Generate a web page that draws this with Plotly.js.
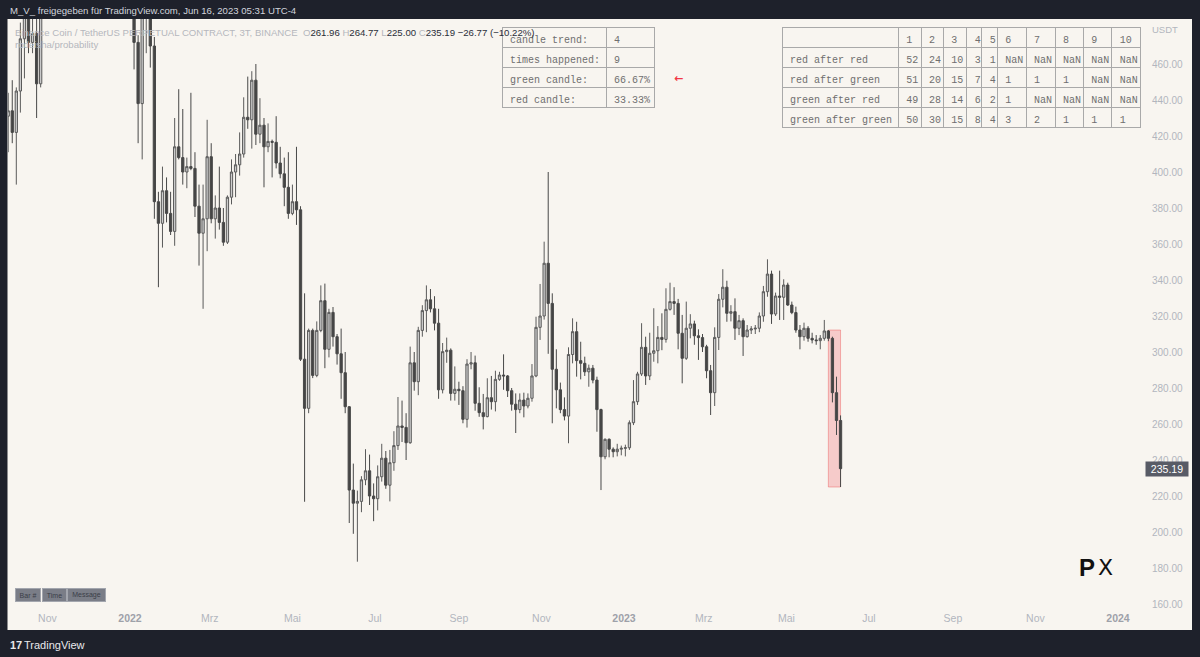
<!DOCTYPE html>
<html><head><meta charset="utf-8">
<script src="https://cdn.plot.ly/plotly-3.0.1.min.js"></script>
<style>html,body{margin:0;padding:0;background:#1e212b;overflow:hidden}#chart{width:1200px;height:657px}</style>
</head><body><div id="chart"></div>
<script>
// ---------------- DATA ----------------
const dates = [
'2021-10-03','2021-10-06','2021-10-09','2021-10-12','2021-10-15','2021-10-18','2021-10-21','2021-10-24','2021-10-27',
'2022-01-04','2022-01-07','2022-01-10','2022-01-13','2022-01-16','2022-01-19','2022-01-22','2022-01-25','2022-01-28','2022-01-31',
'2022-02-03','2022-02-06','2022-02-09','2022-02-12','2022-02-15','2022-02-18','2022-02-21','2022-02-24','2022-02-27',
'2022-03-02','2022-03-05','2022-03-08','2022-03-11','2022-03-14','2022-03-17','2022-03-20','2022-03-23','2022-03-26','2022-03-29',
'2022-04-01','2022-04-04','2022-04-07','2022-04-10','2022-04-13','2022-04-16','2022-04-19','2022-04-22','2022-04-25','2022-04-28',
'2022-05-01','2022-05-04','2022-05-07','2022-05-10','2022-05-13','2022-05-16','2022-05-19','2022-05-22','2022-05-25','2022-05-28','2022-05-31',
'2022-06-03','2022-06-06','2022-06-09','2022-06-12','2022-06-15','2022-06-18','2022-06-21','2022-06-24','2022-06-27','2022-06-30',
'2022-07-03','2022-07-06','2022-07-09','2022-07-12','2022-07-15','2022-07-18','2022-07-21','2022-07-24','2022-07-27','2022-07-30',
'2022-08-02','2022-08-05','2022-08-08','2022-08-11','2022-08-14','2022-08-17','2022-08-20','2022-08-23','2022-08-26','2022-08-29',
'2022-09-01','2022-09-04','2022-09-07','2022-09-10','2022-09-13','2022-09-16','2022-09-19','2022-09-22','2022-09-25','2022-09-28',
'2022-10-01','2022-10-04','2022-10-07','2022-10-10','2022-10-13','2022-10-16','2022-10-19','2022-10-22','2022-10-25','2022-10-28','2022-10-31',
'2022-11-03','2022-11-06','2022-11-09','2022-11-12','2022-11-15','2022-11-18','2022-11-21','2022-11-24','2022-11-27','2022-11-30',
'2022-12-03','2022-12-06','2022-12-09','2022-12-12','2022-12-15','2022-12-18','2022-12-21','2022-12-24','2022-12-27','2022-12-30',
'2023-01-02','2023-01-05','2023-01-08','2023-01-11','2023-01-14','2023-01-17','2023-01-20','2023-01-23','2023-01-26','2023-01-29',
'2023-02-01','2023-02-04','2023-02-07','2023-02-10','2023-02-13','2023-02-16','2023-02-19','2023-02-22','2023-02-25','2023-02-28',
'2023-03-03','2023-03-06','2023-03-09','2023-03-12','2023-03-15','2023-03-18','2023-03-21','2023-03-24','2023-03-27','2023-03-30',
'2023-04-02','2023-04-05','2023-04-08','2023-04-11','2023-04-14','2023-04-17','2023-04-20','2023-04-23','2023-04-26','2023-04-29',
'2023-05-02','2023-05-05','2023-05-08','2023-05-11','2023-05-14','2023-05-17','2023-05-20','2023-05-23','2023-05-26','2023-05-29',
'2023-06-01','2023-06-04','2023-06-07','2023-06-10'];

const opens = [
431,434,422,445,474,488,472,477,449,
512,472,438,487,495,470,383.5,371.5,389.6,377,
367,414,408,400,403,402,381,366,374,
408.5,374,380,372,361,386,400,404,410,430.4,
429,451,421,426,414,417,416.5,405,399,391.5,
377,383.5,379,296,268.7,312,287,312,328.5,301.5,322,
308.5,299,288.5,269.6,223.3,216,217,229,234,220,
218.5,230.7,241,226,238.5,248,258.9,258.1,249.6,294,
283.5,312,323,329,324,316,279,300.2,301,277,
279.3,278.5,262.6,293.3,294,271.5,266.3,264.1,274.6,272.4,
284.8,287.2,286.7,278.5,271,268,273.3,270,274.3,286.7,313.7,
320,349.3,327,290.4,279,268,264.4,298.6,311.3,295.2,
293.7,289,291,284.4,268,241.8,251.5,246,244.6,246,
246.5,246.8,260.7,272.4,287.8,302.6,286.7,299.3,300.7,308.1,
307,323.7,328,327,310.4,296.5,313.2,315.6,309,308,
302.9,289.6,277.4,308.1,329.3,336,321.5,322.4,313.2,317.4,
308.5,312.2,312.8,313.2,320,333.5,343.3,321.1,331.1,330.4,
337.2,326.1,321.9,312.2,308.5,313.2,307.6,306.7,306.3,307.6,
311.7,307.6,277.4,261.96];

const highs = [
444,451,447,483,495,495,490,490,505,
520,476,495,505,500,475,389,403,397,389,
430,446,435,408,444,411,393,393,429,
416,387,403,380,387,407,410,422,441.5,453,
456,460,441,430,427,418,431,414,408,411,
393,414,381,332.6,313,313,317,337,338,324,325,
310,313,300,270,238,223,231,246,243,227,
237,249,245,245.6,256,275,273,266,303,300,
314,326,337,335,331,324,305,308,302,292,
283.5,281,296,300,298,280.4,276.7,285.4,286.7,289.6,
289,298.7,287.2,280,277,277,277.4,277,293.3,319.6,337.8,
361.3,400,332.6,301.5,283,274.8,302.6,318.7,316.8,305.7,
297.4,293,292.8,286.3,268.5,252,252,247,249,248,
248.5,262,284.4,289,316,308.5,310.7,324.3,314.4,321.5,
335.4,338.5,336,329.5,320.6,328,321,317.4,312.6,310,
304,292.8,313.7,332.2,346,339.6,326,329.8,320.6,318.7,
315,314.4,315,322,336.7,351.5,345.2,333,345.2,340.4,
338.5,328,325.2,315,316.3,314.4,310.7,309.4,309.4,317.8,
312.2,308.5,286.3,264.77];

const lows = [
411,416,393,433,452,466,466,430,447,
457,416,407,466,458,374,336,358,372,365,
359,407,393,391,401,375,348,324,356,
371.5,363,368,359,360,382,386,398,408,424,
413,415,416,391.5,411,397,402,396.5,381,374,
376,370.6,295,216.8,266,285.5,286,311,291,297,303,
293,274,266,205,199,183.5,211,226,215,206,
212,228,224,217,234,245.6,250,240,249,278.5,
276,308.5,311,322,312,274,277,294,273,273,
270.6,260.4,258,290.4,267.4,264,257,263.7,268,267,
284,279,275,267.4,255,266,263.7,268.7,272.4,286,306.7,
318,299,260.4,268.7,266,262,249.3,293.7,286.3,284.8,
286.7,280.7,282.6,255.7,223.3,240.4,241.5,241.5,242,242.6,
242,245.6,259.4,270.6,286.7,281.7,284.4,294.6,293.7,301,
305.2,323,320.6,301.5,282.6,295.6,307.6,304,295.6,300,
285.4,265,270,301.1,324.8,316.8,317,306.7,309.4,297.8,
308,310,310,311,316.8,330.7,315.6,320,317.8,317.8,
325.6,321,310.7,301.5,306.3,305.7,304.8,304,301.5,306.3,
306,272,253.9,225.00];

const closes = [
434,422,445,474,488,472,477,449,495,
472,438,487,495,470,383.5,371.5,389.6,377,367,
414,408,400,403,402,381,366,374,408.5,
374,380,372,361,386,400,404,410,430.4,429,
451,421,426,414,417,416.5,405,399,391.5,377,
383.5,379,296,268.7,312,287,312,328.5,301.5,322,308.5,
299,288.5,269.6,223.3,216,217,229,234,220,218.5,
230.7,241,226,238.5,248,258.9,258.1,249.6,294,283.5,
312,323,329,324,316,279,300.2,301,277,279.3,
278.5,262.6,293.3,294,271.5,266.3,264.1,274.6,272.4,284.8,
287.2,286.7,278.5,271,268,273.3,270,274.3,286.7,313.7,320,
349.3,327,290.4,279,268,264.4,298.6,311.3,295.2,293.7,
289,291,284.4,268,241.8,251.5,246,244.6,246,246.5,
246.8,260.7,272.4,287.8,302.6,286.7,299.3,300.7,308.1,307,
323.7,328,327,310.4,296.5,313.2,315.6,309,308,302.9,
289.6,277.4,308.1,329.3,336,321.5,322.4,313.2,317.4,308.5,
312.2,312.8,313.2,320,333.5,343.3,321.1,331.1,330.4,337.2,
326.1,321.9,312.2,308.5,313.2,307.6,306.7,306.3,307.6,311.7,
307.6,277.4,261.96,235.19];

const priceTicks = [160,180,200,220,240,260,280,300,320,340,360,380,400,420,440,460];
const timeTickDates = ['2021-11-01','2022-01-01','2022-03-01','2022-05-01','2022-07-01','2022-09-01','2022-11-01',
                       '2023-01-01','2023-03-01','2023-05-01','2023-07-01','2023-09-01','2023-11-01','2024-01-01'];
const timeTickLabels = ['Nov','2022','Mrz','Mai','Jul','Sep','Nov','2023','Mrz','Mai','Jul','Sep','Nov','2024'];

const trendLabels = ['candle trend:','times happened:','green candle:','red candle:'];
const trendValues = ['4','9','66.67%','33.33%'];

const seqHeader = ['','1','2','3','4','5','6','7','8','9','10'];
const seqRowNames = ['red after red','red after green','green after red','green after green'];
const redAfterRed     = ['52','24','10','3','1','NaN','NaN','NaN','NaN','NaN'];
const redAfterGreen   = ['51','20','15','7','4','1','1','1','NaN','NaN'];
const greenAfterRed   = ['49','28','14','6','2','1','NaN','NaN','NaN','NaN'];
const greenAfterGreen = ['50','30','15','8','4','3','2','1','1','1'];

const trendLength = 4;

// ---------------- GEOMETRY ----------------
const W = 1200, H = 657;
const PL = 8, PR = 1145, PT = 19, PB = 610;
const px2x = p => (p - PL) / (PR - PL);
const py2y = p => (PB - p) / (PB - PT);

const BG = '#f8f5f0', DARK = '#1e212b', AX = '#b2b5be';
const F = '"Liberation Sans", Arial, sans-serif';
const MONO = '"Liberation Mono", "Courier New", monospace';

const a0 = Date.UTC(2022,0,1), a1 = Date.UTC(2023,0,1);
const msPerPx = (a1 - a0) / (624 - 130);
const fmtD = ms => { const d = new Date(ms); const p = v => String(v).padStart(2,'0');
  return d.getUTCFullYear()+'-'+p(d.getUTCMonth()+1)+'-'+p(d.getUTCDate())+' '+p(d.getUTCHours())+':'+p(d.getUTCMinutes())+':'+p(d.getUTCSeconds()); };
const xr = [fmtD(a0 - (130 - PL) * msPerPx), fmtD(a0 + (PR - 130) * msPerPx)];
const yr = [460 - (PB - 64) / 1.8, 460 - (PT - 64) / 1.8];

// ---------------- TRACES ----------------
const candles = {
  type: 'candlestick', x: dates, open: opens, high: highs, low: lows, close: closes,
  increasing: {line: {color: '#5a5a5a', width: 1}, fillcolor: '#cdcdcd'},
  decreasing: {line: {color: '#484848', width: 1}, fillcolor: '#454545'},
  whiskerwidth: 0, hoverinfo: 'skip', showlegend: false
};

const nb = s => s.replace(/ /g, '\u00a0');
const cellStyle = {
  align: 'left', height: 20,
  fill: {color: BG}, line: {color: '#a9a9a9', width: 1},
  font: {family: MONO, size: 10, color: '#6f6f6f'}
};
const trendTable = {
  type: 'table',
  domain: {x: [px2x(502), px2x(654)], y: [py2y(120), py2y(27.5)]},
  columnwidth: [104, 48],
  header: Object.assign({values: [nb(trendLabels[0]), trendValues[0]]}, cellStyle),
  cells: Object.assign({values: [trendLabels.slice(1).map(nb), trendValues.slice(1)]}, cellStyle)
};
const seqRows = [redAfterRed, redAfterGreen, greenAfterRed, greenAfterGreen];
const seqCols = [seqRowNames.map(nb)];
for (let j = 0; j < 10; j++) seqCols.push(seqRows.map(r => r[j]));
const seqTable = {
  type: 'table',
  domain: {x: [px2x(782), px2x(1140)], y: [py2y(140), py2y(27.5)]},
  columnwidth: [116.3, 22.7, 22.3, 23.4, 15, 15.6, 28.7, 29, 28.3, 28.4, 28.3],
  header: Object.assign({values: seqHeader}, cellStyle),
  cells: Object.assign({values: seqCols}, cellStyle)
};

// ---------------- SHAPES ----------------
const n = closes.length, last = n - 1, bs = n - trendLength;
const shapes = [
  {type: 'rect', xref: 'paper', yref: 'paper', x0: px2x(7.5), x1: px2x(1192), y0: py2y(630), y1: py2y(19),
   fillcolor: BG, line: {width: 0}, layer: 'below'},
  {type: 'rect', xref: 'x', yref: 'y', x0: dates[bs], x1: dates[last],
   y0: Math.min(...lows.slice(bs)), y1: Math.max(...highs.slice(bs)),
   fillcolor: 'rgba(242,54,69,0.22)', line: {color: 'rgba(235,90,90,0.45)', width: 1}, layer: 'below'}
];

// ---------------- ANNOTATIONS ----------------
const ann = [];
const A = o => ann.push(Object.assign({xref: 'paper', yref: 'paper', showarrow: false, xanchor: 'left', yanchor: 'middle'}, o));
A({x: px2x(8), y: py2y(10), text: 'M_V_ freigegeben für TradingView.com, Jun 16, 2023 05:31 UTC-4',
   font: {family: F, size: 9.6, color: '#d1d4dc'}});

const f2 = v => v.toFixed(2);
const chg = closes[last] - opens[last];
const pct = chg / opens[last] * 100;
const sgn = v => (v < 0 ? '\u2212' : '+') + Math.abs(v).toFixed(2);
const lg = s => '<span style="color:#b5b7bd">' + s + '</span>';
const dk = s => '<span style="color:#2a2e39">' + s + '</span>';
A({x: px2x(13), y: py2y(32),
   text: lg('Binance Coin / TetherUS PERPETUAL CONTRACT, 3T, BINANCE') + '\u00a0\u00a0' +
         lg('O') + dk(f2(opens[last])) + '\u00a0' + lg('H') + dk(f2(highs[last])) + '\u00a0' +
         lg('L') + dk(f2(lows[last])) + '\u00a0' + lg('C') + dk(f2(closes[last])) + '\u00a0' +
         dk(sgn(chg) + ' (' + sgn(pct) + '%)'),
   font: {family: F, size: 9.6, color: '#b5b7bd'}});
A({x: px2x(13), y: py2y(45), text: 'rodeisha/probability', font: {family: F, size: 9.6, color: '#b5b7bd'}});

A({x: px2x(1165), y: py2y(30), xanchor: 'center', text: 'USDT', font: {family: F, size: 9.5, color: AX}});
A({yref: 'y', x: px2x(1145), y: closes[last], text: f2(closes[last]), bgcolor: '#585b66',
   font: {family: F, size: 10.5, color: '#ffffff'}, width: 40, height: 12, borderpad: 1});
A({x: px2x(678), y: py2y(78), xanchor: 'center', text: '<b>\u2190</b>', font: {family: 'DejaVu Sans, sans-serif', size: 11, color: '#f23645'}});

const btn = (cx, w, t) => A({x: px2x(cx), y: py2y(595), xanchor: 'center', text: t, width: w, height: 10,
   bgcolor: '#7a7d87', bordercolor: '#a3a6ae', borderwidth: 1, borderpad: 1,
   font: {family: F, size: 7, color: '#3a3d47'}});
btn(27.5, 22, 'Bar #'); btn(54, 21, 'Time'); btn(86.5, 35, 'Message');

A({x: px2x(1087), y: py2y(567), xanchor: 'center', text: '<b>P</b>', font: {family: F, size: 24, color: '#111111'}});
A({x: px2x(1105), y: py2y(567), xanchor: 'center', text: 'X', font: {family: 'DejaVu Sans, sans-serif', size: 22, color: '#111111'}});

A({x: px2x(8), y: py2y(645), text: '<b>17</b>', font: {family: F, size: 11, color: '#e8e9ec'}});
A({x: px2x(22), y: py2y(645), text: 'TradingView', font: {family: F, size: 11, color: '#e8e9ec'}});

// ---------------- LAYOUT ----------------
const tickText = timeTickLabels.map(t => /^\d{4}$/.test(t) ? '<b><span style="color:#9ea1a9">' + t + '</span></b>' : t);
const layout = {
  width: W, height: H,
  margin: {l: PL, r: W - PR, t: PT, b: H - PB, pad: 0},
  paper_bgcolor: DARK, plot_bgcolor: BG,
  showlegend: false, hovermode: false, boxgap: 0.2,
  xaxis: {type: 'date', range: xr, tickvals: timeTickDates, ticktext: tickText,
          showgrid: false, zeroline: false, showline: false, ticks: '',
          tickfont: {family: F, size: 10.5, color: AX}, rangeslider: {visible: false}, fixedrange: true},
  yaxis: {side: 'right', range: yr, tickvals: priceTicks, ticktext: priceTicks.map(f2),
          showgrid: false, zeroline: false, showline: false, ticks: '', ticklabelstandoff: 6,
          tickfont: {family: F, size: 10, color: AX}, fixedrange: true},
  shapes: shapes, annotations: ann
};

Plotly.newPlot('chart', [candles, trendTable, seqTable], layout, {staticPlot: true, displayModeBar: false});
</script>
</body></html>
